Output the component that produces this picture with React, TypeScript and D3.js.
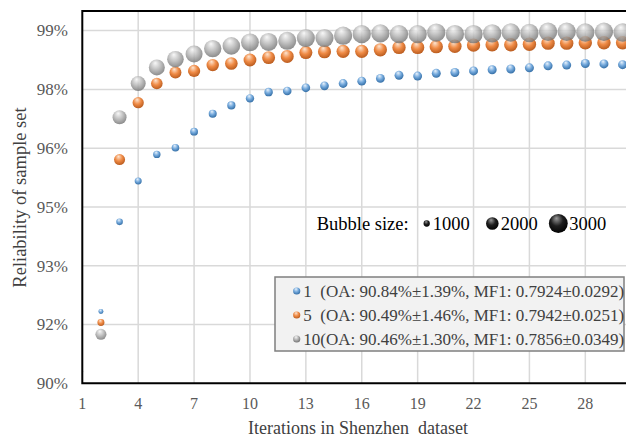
import React from "react";
import * as d3 from "d3";

const iterations = Array.from({ length: 30 }, (_, i) => i + 1);

const series1Values = [90.3, 91.83, 94.12, 95.16, 95.84, 96.01, 96.42, 96.88, 97.09, 97.27, 97.43, 97.46, 97.54, 97.59, 97.65, 97.71, 97.78, 97.86, 97.84, 97.91, 97.93, 97.97, 98.0, 98.02, 98.05, 98.1, 98.12, 98.16, 98.15, 98.13];
const series5Values = [90.34, 91.55, 95.71, 97.16, 97.65, 97.93, 97.97, 98.12, 98.16, 98.25, 98.31, 98.34, 98.44, 98.46, 98.47, 98.47, 98.51, 98.57, 98.57, 98.59, 98.6, 98.63, 98.64, 98.64, 98.65, 98.68, 98.68, 98.69, 98.69, 98.69];
const series10Values = [90.3, 91.25, 96.79, 97.65, 98.06, 98.27, 98.4, 98.54, 98.61, 98.7, 98.71, 98.74, 98.81, 98.81, 98.87, 98.91, 98.93, 98.91, 98.91, 98.95, 98.91, 98.91, 98.93, 98.95, 98.94, 98.97, 98.97, 98.95, 98.97, 98.95];

const series1Sizes = [150, 790, 1050, 1110, 1170, 1210, 1240, 1270, 1300, 1330, 1350, 1360, 1370, 1380, 1390, 1400, 1400, 1410, 1410, 1420, 1420, 1420, 1430, 1430, 1430, 1430, 1430, 1430, 1430, 1430];
const series5Sizes = [250, 1110, 1750, 1780, 1840, 1900, 1940, 1970, 2000, 2030, 2050, 2060, 2070, 2080, 2090, 2100, 2100, 2110, 2110, 2120, 2120, 2120, 2130, 2130, 2130, 2130, 2130, 2130, 2130, 2130];
const series10Sizes = [300, 1750, 2220, 2380, 2540, 2630, 2700, 2760, 2790, 2830, 2850, 2860, 2870, 2880, 2890, 2900, 2900, 2910, 2910, 2910, 2920, 2920, 2920, 2920, 2920, 2920, 2920, 2920, 2920, 2920];

const seriesNames = ["1", "5", "10"];
const legendLabels = [
  "1  (OA: 90.84%\u00b11.39%, MF1: 0.7924\u00b10.0292)",
  "5  (OA: 90.49%\u00b11.46%, MF1: 0.7942\u00b10.0251)",
  "10(OA: 90.46%\u00b11.30%, MF1: 0.7856\u00b10.0349)",
];

const yTicks = [90, 91.5, 93, 94.5, 96, 97.5, 99];
const yTickLabels = ["90%", "92%", "93%", "95%", "96%", "98%", "99%"];
const xGridTicks = [4, 7, 10, 13, 16, 19, 22, 25, 28, 31];
const xTickLabels = [1, 4, 7, 10, 13, 16, 19, 22, 25, 28];
const bubbleLegendSizes = [1000, 2000, 3000];

const W = 626;
const H = 437;
const plotLeft = 82.3;
const plotTop = 11;
const plotBottom = 383.3;
const unitPx = 18.63;

const FONT = "'Liberation Serif', 'Times New Roman', serif";

export default function App() {
  if (typeof document !== "undefined") document.body.style.margin = "0";

  const x = d3.scaleLinear().domain([1, 31]).range([plotLeft, plotLeft + 30 * unitPx]);
  const y = d3.scaleLinear().domain([90, 99.5]).range([plotBottom, plotTop]);
  const r = d3.scaleLinear().domain([0, 1000]).range([0, 3.15]);

  const series = [
    { name: seriesNames[0], values: series1Values, sizes: series1Sizes, grad: "gBlue", opacity: 1 },
    { name: seriesNames[1], values: series5Values, sizes: series5Sizes, grad: "gOrange", opacity: 1 },
    { name: seriesNames[2], values: series10Values, sizes: series10Sizes, grad: "gGray", opacity: 0.82 },
  ];

  const grads = [
    { id: "gBlue", c0: "#eaf3fc", c1: "#74a9dc", c2: "#2c679f" },
    { id: "gOrange", c0: "#fde6d3", c1: "#f08c47", c2: "#b3561a" },
    { id: "gGray", c0: "#f7f7f7", c1: "#b3b3b3", c2: "#6b6b6b" },
    { id: "gBlack", c0: "#9a9a9a", c1: "#1e1e1e", c2: "#000000" },
  ];

  const legendRowY = [291, 315, 339];

  return (
    <svg width={W} height={H} style={{ position: "absolute", left: 0, top: 0, background: "#fff" }} fontFamily={FONT}>
      <defs>
        {grads.map((g) => (
          <radialGradient key={g.id} id={g.id} cx="0.45" cy="0.4" r="0.65" fx="0.4" fy="0.22">
            <stop offset="0" stopColor={g.c0} />
            <stop offset="0.5" stopColor={g.c1} />
            <stop offset="1" stopColor={g.c2} />
          </radialGradient>
        ))}
        <clipPath id="plotClip">
          <rect x={plotLeft} y={plotTop} width={W} height={plotBottom - plotTop} />
        </clipPath>
      </defs>

      {/* gridlines */}
      {yTicks.slice(1).map((t) => (
        <line key={"gy" + t} x1={plotLeft} x2={W + 20} y1={y(t)} y2={y(t)} stroke="#d9d9d9" strokeWidth={1.5} />
      ))}
      {xGridTicks.map((t) => (
        <line key={"gx" + t} x1={x(t)} x2={x(t)} y1={plotTop} y2={plotBottom} stroke="#d9d9d9" strokeWidth={1.5} />
      ))}

      {/* bubbles */}
      <g clipPath="url(#plotClip)">
        {series.map((s) => (
          <g key={s.name} opacity={s.opacity}>
            {iterations.map((it, i) => (
              <circle key={it} cx={x(it)} cy={y(s.values[i])} r={r(s.sizes[i])} fill={`url(#${s.grad})`} />
            ))}
          </g>
        ))}
      </g>

      {/* frame */}
      <path d={`M${W + 10},${plotTop} H${plotLeft} V${plotBottom} H${W + 10}`} fill="none" stroke="#000" strokeWidth={2} />

      {/* y ticks */}
      {yTicks.map((t, i) => (
        <text key={"yt" + t} x={68} y={y(t) + 5.8} textAnchor="end" fontSize={17} fill="#595959">
          {yTickLabels[i]}
        </text>
      ))}
      {/* x ticks */}
      {xTickLabels.map((t) => (
        <text key={"xt" + t} x={x(t)} y={408.5} textAnchor="middle" fontSize={16} fill="#595959">
          {t}
        </text>
      ))}

      {/* axis titles */}
      <text transform={`translate(25.5,197.5) rotate(-90)`} textAnchor="middle" fontSize={18.5} fill="#404040">
        Reliability of sample set
      </text>
      <text x={358} y={434} textAnchor="middle" fontSize={18} fill="#404040" style={{ whiteSpace: "pre" }}>
        {"Iterations in Shenzhen  dataset"}
      </text>

      {/* bubble size legend */}
      <text x={316.7} y={229.5} fontSize={18.5} fill="#000">Bubble size:</text>
      {bubbleLegendSizes.map((s, i) => {
        const cxs = [426.7, 492.3, 558.3];
        const txs = [432.7, 500.7, 569.3];
        return (
          <g key={"bl" + s}>
            <circle cx={cxs[i]} cy={223.5} r={r(s)} fill="url(#gBlack)" />
            <text x={txs[i]} y={229.5} fontSize={18.5} fill="#000">{s}</text>
          </g>
        );
      })}

      {/* series legend */}
      <rect x={275} y={277} width={349} height={74} fill="#f2f2f2" stroke="#7f7f7f" strokeWidth={1.5} />
      {series.map((s, i) => (
        <g key={"lg" + s.name}>
          <circle cx={296.7} cy={legendRowY[i]} r={3.6} fill={`url(#${s.grad})`} />
          <text x={303.3} y={legendRowY[i] + 5.8} fontSize={17} fill="#404040" style={{ whiteSpace: "pre" }}>
            {legendLabels[i]}
          </text>
        </g>
      ))}
    </svg>
  );
}
